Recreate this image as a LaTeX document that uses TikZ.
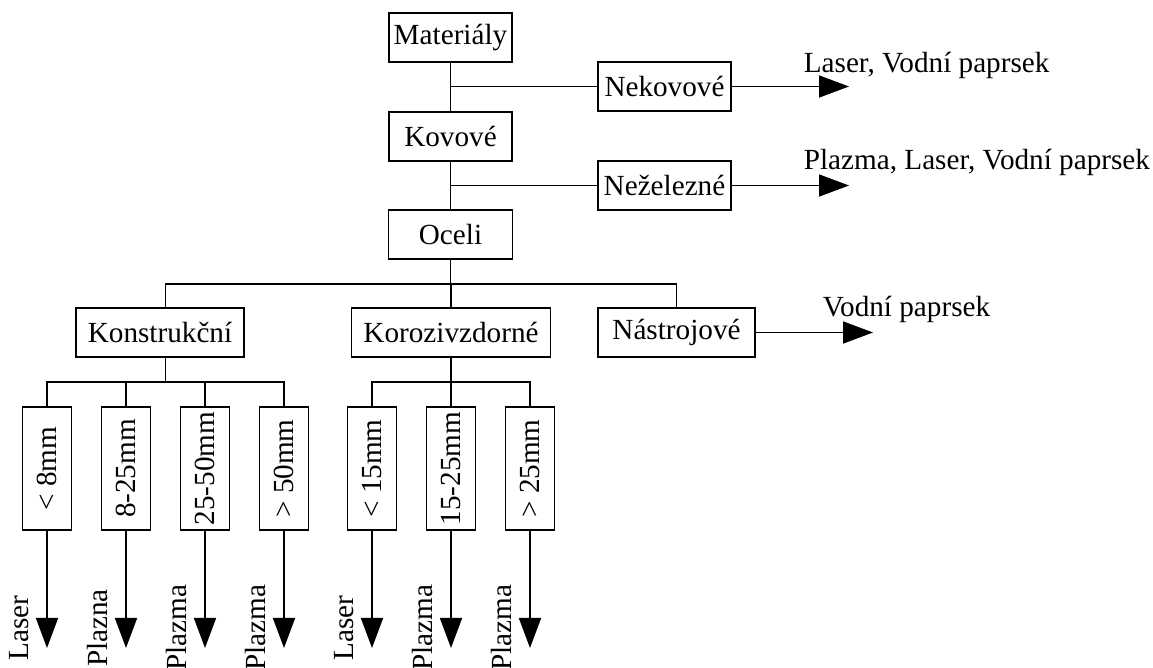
\documentclass[tikz,border=0pt]{standalone}
\usepackage{fontspec}
\setmainfont{Liberation Serif}
\usetikzlibrary{arrows.meta}

\begin{document}
\begin{tikzpicture}[x=0.5pt, y=-0.5pt, line width=0.85pt,
	    every node/.style={font=\fontsize{14.6}{16}\selectfont},
	    box/.style={draw, minimum height=24.5pt, inner sep=2pt},
	    mmbox/.style={box, rotate=90, minimum width=61.5pt},
	    toout/.style={-{Triangle[length=15pt,width=11pt]}},
	    method/.style={anchor=base west, inner sep=0pt},
	    cut/.style={rotate=90, anchor=base, inner sep=0pt}]
	\useasboundingbox (0,0) rectangle (1153,668);

	% main trunk
	\node[box, minimum width=61.5pt] (mat) at (450.5,37.5) {Materiály};
	\node[box, minimum width=61.5pt] (kov) at (450.5,136.5) {Kovové};
	\node[box, minimum width=62pt] (oce) at (450.5,234.5) {Oceli};
	\draw (mat) -- (kov) -- (oce);

	% side branches
	\node[box, minimum width=66.5pt] (nek) at (664.5,86.5) {Nekovové};
	\node[box, minimum width=66.5pt] (nez) at (664.5,185.5) {Neželezné};
	\coordinate (nekend) at (849,86.5);
	\coordinate (nezend) at (849,185.5);
	\draw (mat.south |- nek.west) -- (nek.west);
	\draw (kov.south |- nez.west) -- (nez.west);
	\draw[toout] (nek) -- (nekend);
	\draw[toout] (nez) -- (nezend);
	\node[method] (nekm) at (803,73) {Laser, Vodní paprsek};
	\node[method] (nezm) at (803,170) {Plazma, Laser, Vodní paprsek};

	% kinds of steel
	\node[box, minimum width=84pt] (kon) at (160,332.5) {Konstrukční};
	\node[box, minimum width=99.5pt] (kor) at (451,332.5) {Korozivzdorné};
	\node[box, minimum width=78.5pt] (nas) at (676.5,332.5) {Nástrojové};
	\coordinate (ob) at (450.5,284);
	\coordinate (kb) at (165.5,382);
	\coordinate (rb) at (451,382);
	\coordinate (nasend) at (873,332.5);
	\draw (oce) -- (ob);
	\draw (kon.north -| kb) |- (ob) -| (nas.north);
	\draw (kor.north) -- (kor.north |- ob);
	\draw[toout] (nas) -- (nasend);
	\node[method] (nasm) at (822,317) {Vodní paprsek};

	% thickness ranges
	\foreach \x/\mm/\how [count=\i] in {47/{< 8mm}/Laser, 126/{8-25mm}/Plazna,
	    205/{25-50mm}/Plazma, 284/{> 50mm}/Plazma, 372/{< 15mm}/Laser,
	    451/{15-25mm}/Plazma, 530/{> 25mm}/Plazma}{
		\node[mmbox] (k\i) at (\x,468.5) {\mm};
		\node[cut] (l\i) at (\x-19,628) {\how};
		\coordinate (t\i) at (\x,648);
		\draw[toout] (k\i.west) -- (t\i);
	}
	\draw (kon.south -| kb) -- (kb);
	\draw (k1.east) |- (kb) -| (k4.east);
	\draw (k2.east) -- (k2.east |- kb);
	\draw (k3.east) -- (k3.east |- kb);
	\draw (kor.south) -- (rb);
	\draw (k5.east) |- (rb) -| (k7.east);
	\draw (k6.east) -- (rb); % end of steels
\end{tikzpicture}
\end{document}
